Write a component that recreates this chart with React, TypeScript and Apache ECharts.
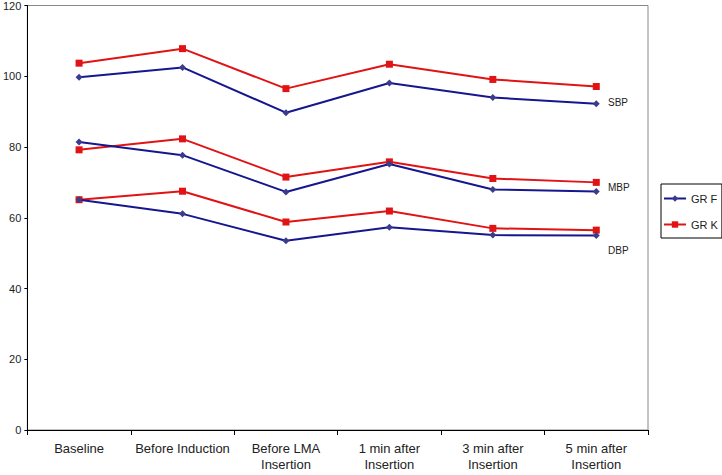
import React, { useEffect, useRef } from "react";
import * as echarts from "echarts";

const categories = [
  "Baseline",
  "Before Induction",
  "Before LMA\nInsertion",
  "1 min after\nInsertion",
  "3 min after\nInsertion",
  "5 min after\nInsertion",
];
const yTicks = { min: 0, max: 120, interval: 20 };

const grFSBP = [99.7, 102.5, 89.7, 98.1, 94.0, 92.2];
const grKSBP = [103.7, 107.8, 96.5, 103.4, 99.1, 97.1];
const grFMBP = [81.4, 77.7, 67.3, 75.2, 68.0, 67.4];
const grKMBP = [79.2, 82.3, 71.5, 75.8, 71.1, 70.0];
const grFDBP = [65.1, 61.1, 53.5, 57.3, 55.1, 55.0];
const grKDBP = [65.1, 67.5, 58.8, 61.9, 57.0, 56.5];

const groupLabels = ["SBP", "MBP", "DBP"];

const BLUE = "#16168f";
const BLUE_MARK = "#3c3c8c";
const RED = "#e01414";
const FONT = "'Liberation Sans', Arial, sans-serif";

export default function App() {
  const ref = useRef<HTMLDivElement>(null);
  useEffect(() => {
    if (!ref.current) return;
    const chart = echarts.init(ref.current, undefined, { renderer: "svg" });
    const fSeries = (data: number[]) => ({
      type: "line",
      name: "GR F",
      data,
      symbol: "diamond",
      symbolSize: 7,
      lineStyle: { color: BLUE, width: 2 },
      itemStyle: { color: BLUE_MARK },
      z: 3,
    });
    const kSeries = (data: number[]) => ({
      type: "line",
      name: "GR K",
      data,
      symbol: "rect",
      symbolSize: 7,
      lineStyle: { color: RED, width: 2 },
      itemStyle: { color: RED },
      z: 2,
    });
    chart.setOption({
      animation: false,
      backgroundColor: "#fff",
      textStyle: { fontFamily: FONT },
      grid: {
        left: 26,
        top: 4,
        right: 74,
        bottom: 45,
        show: true,
        borderColor: "#888",
        borderWidth: 1,
      },
      legend: {
        data: ["GR F", "GR K"],
        orient: "vertical",
        left: 661,
        top: 184,
        width: 60,
        height: 64,
        padding: [9, 4, 8, 2],
        itemGap: 15,
        itemWidth: 22,
        itemHeight: 8,
        borderColor: "#000",
        borderWidth: 1,
        textStyle: { fontSize: 11, color: "#222", fontFamily: FONT },
      },
      xAxis: {
        type: "category",
        data: categories,
        boundaryGap: true,
        axisLine: { lineStyle: { color: "#000", width: 1 } },
        axisTick: { show: true, length: 5, lineStyle: { color: "#000" } },
        axisLabel: {
          color: "#222",
          fontSize: 13,
          lineHeight: 16,
          margin: 10,
          interval: 0,
          fontFamily: FONT,
        },
        splitLine: { show: false },
      },
      yAxis: {
        type: "value",
        min: yTicks.min,
        max: yTicks.max,
        interval: yTicks.interval,
        axisLine: { show: true, lineStyle: { color: "#000", width: 1 } },
        axisTick: { show: true, length: 3, lineStyle: { color: "#000" } },
        axisLabel: { color: "#222", fontSize: 11, margin: 6, fontFamily: FONT },
        splitLine: { show: false },
      },
      series: [
        kSeries(grKSBP),
        fSeries(grFSBP),
        kSeries(grKMBP),
        fSeries(grFMBP),
        kSeries(grKDBP),
        fSeries(grFDBP),
      ],
      graphic: [
        { type: "text", left: 608, top: 97, style: { text: groupLabels[0], fontSize: 10, fill: "#222", fontFamily: FONT } },
        { type: "text", left: 608, top: 182, style: { text: groupLabels[1], fontSize: 10, fill: "#222", fontFamily: FONT } },
        { type: "text", left: 608, top: 245, style: { text: groupLabels[2], fontSize: 10, fill: "#222", fontFamily: FONT } },
      ],
    });
    return () => chart.dispose();
  }, []);
  return <div ref={ref} style={{ width: 722, height: 475, position: "absolute", left: 0, top: 0 }} />;
}
